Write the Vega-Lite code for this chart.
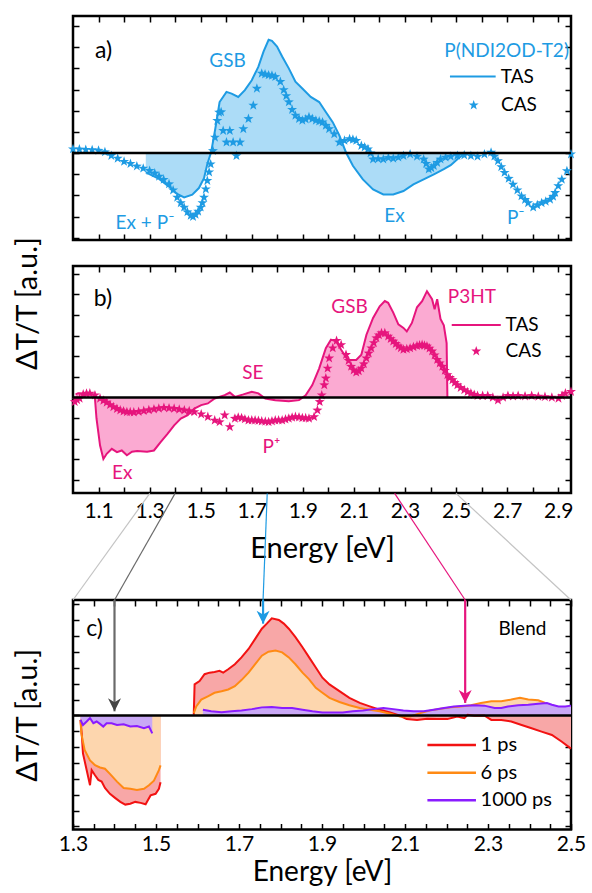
{
  "$schema": "https://vega.github.io/schema/vega-lite/v6.json",
  "padding": {"left": 12, "top": 14, "right": 5, "bottom": 0},
  "bounds": "flush",
  "spacing": 26,
  "config": {
    "font": "Lato",
    "view": {"stroke": null},
    "axis": {
      "domain": false, "grid": false,
      "tickColor": "black", "tickWidth": 1.5, "tickSize": -6,
      "labelFont": "Lato", "labelFontSize": 21, "labelColor": "black",
      "labelPadding": 13, "labelFlush": false, "labelOverlap": false, "labelBound": false,
      "titleFont": "Lato", "titleFontSize": 29, "titleFontWeight": "normal", "titleColor": "black"
    },
    "text": {"font": "Lato"}
  },
  "datasets": {
    "tas_a": [
      {"E":1.285,"dTT":-0.91},{"E":1.337,"dTT":-1.22},{"E":1.376,"dTT":-1.58},{"E":1.408,"dTT":-1.93},{"E":1.435,"dTT":-2.09},{"E":1.467,"dTT":-1.96},{"E":1.493,"dTT":-1.65},{"E":1.513,"dTT":-1.18},{"E":1.526,"dTT":-0.52},{"E":1.541,"dTT":0.05},{"E":1.557,"dTT":1.14},{"E":1.574,"dTT":2.41},{"E":1.601,"dTT":2.89},{"E":1.621,"dTT":2.81},{"E":1.647,"dTT":2.65},{"E":1.673,"dTT":2.97},{"E":1.700,"dTT":3.44},{"E":1.726,"dTT":4.08},{"E":1.746,"dTT":4.79},{"E":1.766,"dTT":5.35},{"E":1.779,"dTT":5.30},{"E":1.799,"dTT":5.03},{"E":1.819,"dTT":4.56},{"E":1.845,"dTT":4.00},{"E":1.871,"dTT":3.37},{"E":1.898,"dTT":3.05},{"E":1.931,"dTT":2.65},{"E":1.964,"dTT":2.41},{"E":1.990,"dTT":1.94},{"E":2.017,"dTT":1.46},{"E":2.043,"dTT":0.83},{"E":2.069,"dTT":0.03},{"E":2.096,"dTT":-0.60},{"E":2.135,"dTT":-1.24},{"E":2.175,"dTT":-1.71},{"E":2.215,"dTT":-1.95},{"E":2.254,"dTT":-1.95},{"E":2.294,"dTT":-1.79},{"E":2.333,"dTT":-1.48},{"E":2.373,"dTT":-1.24},{"E":2.413,"dTT":-1.00},{"E":2.452,"dTT":-0.76},{"E":2.479,"dTT":-0.57},{"E":2.505,"dTT":-0.29},{"E":2.525,"dTT":-0.10}
    ],
    "cas_a": [
      {"E":1.000,"dTT":0.19},{"E":1.025,"dTT":0.18},{"E":1.050,"dTT":0.16},{"E":1.075,"dTT":0.15},{"E":1.100,"dTT":0.12},{"E":1.125,"dTT":0.05},{"E":1.150,"dTT":-0.12},{"E":1.175,"dTT":-0.25},{"E":1.200,"dTT":-0.40},{"E":1.225,"dTT":-0.50},{"E":1.250,"dTT":-0.62},{"E":1.275,"dTT":-0.72},{"E":1.300,"dTT":-0.83},{"E":1.320,"dTT":-0.95},{"E":1.337,"dTT":-1.10},{"E":1.355,"dTT":-1.25},{"E":1.376,"dTT":-1.46},{"E":1.392,"dTT":-1.75},{"E":1.408,"dTT":-2.09},{"E":1.422,"dTT":-2.35},{"E":1.435,"dTT":-2.56},{"E":1.448,"dTT":-2.78},{"E":1.461,"dTT":-2.95},{"E":1.470,"dTT":-3.00},{"E":1.480,"dTT":-2.90},{"E":1.490,"dTT":-2.75},{"E":1.500,"dTT":-2.56},{"E":1.507,"dTT":-2.35},{"E":1.513,"dTT":-2.09},{"E":1.520,"dTT":-1.70},{"E":1.526,"dTT":-1.30},{"E":1.533,"dTT":-0.90},{"E":1.539,"dTT":-0.52},{"E":1.548,"dTT":0.11},{"E":1.556,"dTT":0.74},{"E":1.565,"dTT":1.53},{"E":1.572,"dTT":1.92},{"E":1.580,"dTT":1.94},{"E":1.588,"dTT":1.06},{"E":1.601,"dTT":0.51},{"E":1.614,"dTT":1.06},{"E":1.627,"dTT":0.51},{"E":1.640,"dTT":-0.13},{"E":1.654,"dTT":0.51},{"E":1.667,"dTT":1.14},{"E":1.687,"dTT":1.62},{"E":1.706,"dTT":2.25},{"E":1.720,"dTT":3.05},{"E":1.739,"dTT":3.76},{"E":1.752,"dTT":3.72},{"E":1.766,"dTT":3.68},{"E":1.779,"dTT":3.66},{"E":1.792,"dTT":3.60},{"E":1.812,"dTT":3.37},{"E":1.825,"dTT":2.98},{"E":1.835,"dTT":2.70},{"E":1.845,"dTT":2.41},{"E":1.858,"dTT":2.05},{"E":1.871,"dTT":1.78},{"E":1.885,"dTT":1.62},{"E":1.898,"dTT":1.54},{"E":1.911,"dTT":1.60},{"E":1.924,"dTT":1.70},{"E":1.937,"dTT":1.62},{"E":1.951,"dTT":1.54},{"E":1.964,"dTT":1.50},{"E":1.977,"dTT":1.46},{"E":1.990,"dTT":1.30},{"E":2.003,"dTT":1.14},{"E":2.023,"dTT":0.90},{"E":2.043,"dTT":0.51},{"E":2.063,"dTT":0.59},{"E":2.083,"dTT":0.67},{"E":2.096,"dTT":0.64},{"E":2.109,"dTT":0.59},{"E":2.129,"dTT":0.35},{"E":2.142,"dTT":0.28},{"E":2.155,"dTT":0.19},{"E":2.165,"dTT":0.00},{"E":2.175,"dTT":-0.29},{"E":2.195,"dTT":-0.27},{"E":2.215,"dTT":-0.29},{"E":2.235,"dTT":-0.22},{"E":2.254,"dTT":-0.25},{"E":2.274,"dTT":-0.20},{"E":2.294,"dTT":-0.13},{"E":2.320,"dTT":-0.05},{"E":2.347,"dTT":-0.16},{"E":2.373,"dTT":-0.29},{"E":2.383,"dTT":-0.50},{"E":2.393,"dTT":-0.76},{"E":2.403,"dTT":-0.70},{"E":2.413,"dTT":-0.60},{"E":2.426,"dTT":-0.45},{"E":2.439,"dTT":-0.29},{"E":2.459,"dTT":-0.20},{"E":2.479,"dTT":-0.16},{"E":2.505,"dTT":-0.12},{"E":2.532,"dTT":-0.10},{"E":2.558,"dTT":-0.13},{"E":2.584,"dTT":-0.16},{"E":2.611,"dTT":-0.05},{"E":2.637,"dTT":0.03},{"E":2.650,"dTT":-0.15},{"E":2.664,"dTT":-0.37},{"E":2.677,"dTT":-0.65},{"E":2.690,"dTT":-0.92},{"E":2.706,"dTT":-1.20},{"E":2.723,"dTT":-1.48},{"E":2.740,"dTT":-1.75},{"E":2.756,"dTT":-2.03},{"E":2.770,"dTT":-2.20},{"E":2.782,"dTT":-2.35},{"E":2.802,"dTT":-2.56},{"E":2.818,"dTT":-2.45},{"E":2.835,"dTT":-2.35},{"E":2.851,"dTT":-2.28},{"E":2.868,"dTT":-2.19},{"E":2.880,"dTT":-2.05},{"E":2.888,"dTT":-1.87},{"E":2.900,"dTT":-1.55},{"E":2.914,"dTT":-1.24},{"E":2.934,"dTT":-0.84},{"E":2.950,"dTT":-0.05}
    ],
    "tas_b": [
      {"E":1.010,"dTT":0.15},{"E":1.020,"dTT":0.20},{"E":1.053,"dTT":0.18},{"E":1.079,"dTT":0.15},{"E":1.086,"dTT":-0.05},{"E":1.092,"dTT":-1.02},{"E":1.106,"dTT":-2.33},{"E":1.119,"dTT":-2.98},{"E":1.132,"dTT":-2.73},{"E":1.152,"dTT":-2.49},{"E":1.172,"dTT":-2.65},{"E":1.191,"dTT":-2.57},{"E":1.211,"dTT":-2.80},{"E":1.231,"dTT":-2.63},{"E":1.251,"dTT":-2.59},{"E":1.290,"dTT":-2.63},{"E":1.317,"dTT":-2.57},{"E":1.343,"dTT":-2.16},{"E":1.370,"dTT":-1.76},{"E":1.396,"dTT":-1.35},{"E":1.422,"dTT":-1.02},{"E":1.449,"dTT":-0.86},{"E":1.475,"dTT":-0.54},{"E":1.502,"dTT":-0.37},{"E":1.528,"dTT":-0.29},{"E":1.555,"dTT":-0.05},{"E":1.594,"dTT":0.11},{"E":1.614,"dTT":0.24},{"E":1.634,"dTT":0.03},{"E":1.667,"dTT":0.15},{"E":1.700,"dTT":0.28},{"E":1.726,"dTT":0.20},{"E":1.753,"dTT":-0.05},{"E":1.792,"dTT":-0.13},{"E":1.845,"dTT":-0.18},{"E":1.885,"dTT":-0.13},{"E":1.911,"dTT":0.11},{"E":1.937,"dTT":0.60},{"E":1.964,"dTT":1.41},{"E":1.990,"dTT":2.39},{"E":2.010,"dTT":2.80},{"E":2.030,"dTT":2.72},{"E":2.050,"dTT":2.31},{"E":2.076,"dTT":1.82},{"E":2.109,"dTT":1.82},{"E":2.129,"dTT":2.07},{"E":2.149,"dTT":3.04},{"E":2.175,"dTT":3.85},{"E":2.201,"dTT":4.42},{"E":2.221,"dTT":4.67},{"E":2.234,"dTT":4.59},{"E":2.254,"dTT":4.11},{"E":2.274,"dTT":3.54},{"E":2.294,"dTT":3.37},{"E":2.307,"dTT":3.20},{"E":2.327,"dTT":3.61},{"E":2.347,"dTT":4.37},{"E":2.367,"dTT":4.67},{"E":2.386,"dTT":5.15},{"E":2.406,"dTT":4.76},{"E":2.416,"dTT":4.28},{"E":2.426,"dTT":4.76},{"E":2.439,"dTT":3.80},{"E":2.452,"dTT":3.50},{"E":2.463,"dTT":2.63},{"E":2.466,"dTT":0.00}
    ],
    "cas_b": [
      {"E":1.007,"dTT":-0.21},{"E":1.016,"dTT":-0.12},{"E":1.026,"dTT":-0.05},{"E":1.040,"dTT":0.15},{"E":1.053,"dTT":0.19},{"E":1.066,"dTT":0.20},{"E":1.086,"dTT":0.11},{"E":1.106,"dTT":-0.05},{"E":1.119,"dTT":-0.15},{"E":1.132,"dTT":-0.24},{"E":1.145,"dTT":-0.36},{"E":1.158,"dTT":-0.46},{"E":1.172,"dTT":-0.55},{"E":1.185,"dTT":-0.62},{"E":1.198,"dTT":-0.67},{"E":1.211,"dTT":-0.70},{"E":1.224,"dTT":-0.71},{"E":1.238,"dTT":-0.72},{"E":1.257,"dTT":-0.69},{"E":1.277,"dTT":-0.65},{"E":1.297,"dTT":-0.61},{"E":1.317,"dTT":-0.57},{"E":1.336,"dTT":-0.53},{"E":1.356,"dTT":-0.50},{"E":1.376,"dTT":-0.52},{"E":1.396,"dTT":-0.54},{"E":1.416,"dTT":-0.58},{"E":1.436,"dTT":-0.62},{"E":1.455,"dTT":-0.66},{"E":1.475,"dTT":-0.70},{"E":1.502,"dTT":-0.81},{"E":1.528,"dTT":-0.94},{"E":1.555,"dTT":-1.11},{"E":1.574,"dTT":-1.19},{"E":1.594,"dTT":-0.86},{"E":1.614,"dTT":-1.43},{"E":1.634,"dTT":-1.02},{"E":1.647,"dTT":-0.97},{"E":1.660,"dTT":-0.99},{"E":1.673,"dTT":-1.05},{"E":1.687,"dTT":-1.11},{"E":1.700,"dTT":-1.10},{"E":1.713,"dTT":-1.11},{"E":1.726,"dTT":-1.13},{"E":1.739,"dTT":-1.15},{"E":1.753,"dTT":-1.17},{"E":1.766,"dTT":-1.19},{"E":1.779,"dTT":-1.15},{"E":1.792,"dTT":-1.11},{"E":1.805,"dTT":-1.10},{"E":1.819,"dTT":-1.11},{"E":1.832,"dTT":-1.06},{"E":1.845,"dTT":-1.02},{"E":1.858,"dTT":-0.97},{"E":1.871,"dTT":-0.94},{"E":1.885,"dTT":-0.96},{"E":1.898,"dTT":-0.99},{"E":1.911,"dTT":-1.00},{"E":1.924,"dTT":-1.02},{"E":1.944,"dTT":-0.94},{"E":1.957,"dTT":-0.62},{"E":1.966,"dTT":-0.21},{"E":1.974,"dTT":0.11},{"E":1.984,"dTT":0.60},{"E":1.990,"dTT":0.93},{"E":1.997,"dTT":1.41},{"E":2.003,"dTT":1.90},{"E":2.017,"dTT":2.39},{"E":2.032,"dTT":2.75},{"E":2.050,"dTT":2.55},{"E":2.069,"dTT":2.07},{"E":2.079,"dTT":1.78},{"E":2.089,"dTT":1.50},{"E":2.099,"dTT":1.32},{"E":2.109,"dTT":1.22},{"E":2.119,"dTT":1.28},{"E":2.129,"dTT":1.41},{"E":2.139,"dTT":1.62},{"E":2.149,"dTT":1.90},{"E":2.158,"dTT":2.14},{"E":2.168,"dTT":2.39},{"E":2.178,"dTT":2.64},{"E":2.188,"dTT":2.88},{"E":2.198,"dTT":3.02},{"E":2.208,"dTT":3.12},{"E":2.221,"dTT":3.12},{"E":2.234,"dTT":2.96},{"E":2.244,"dTT":2.84},{"E":2.254,"dTT":2.72},{"E":2.264,"dTT":2.60},{"E":2.274,"dTT":2.48},{"E":2.284,"dTT":2.40},{"E":2.294,"dTT":2.32},{"E":2.307,"dTT":2.35},{"E":2.320,"dTT":2.39},{"E":2.333,"dTT":2.45},{"E":2.347,"dTT":2.50},{"E":2.357,"dTT":2.53},{"E":2.367,"dTT":2.55},{"E":2.376,"dTT":2.52},{"E":2.386,"dTT":2.48},{"E":2.396,"dTT":2.38},{"E":2.406,"dTT":2.24},{"E":2.416,"dTT":2.05},{"E":2.426,"dTT":1.83},{"E":2.436,"dTT":1.66},{"E":2.446,"dTT":1.50},{"E":2.456,"dTT":1.30},{"E":2.466,"dTT":1.09},{"E":2.476,"dTT":0.96},{"E":2.486,"dTT":0.85},{"E":2.495,"dTT":0.72},{"E":2.505,"dTT":0.60},{"E":2.518,"dTT":0.47},{"E":2.532,"dTT":0.36},{"E":2.545,"dTT":0.27},{"E":2.558,"dTT":0.20},{"E":2.571,"dTT":0.13},{"E":2.584,"dTT":0.08},{"E":2.604,"dTT":0.08},{"E":2.624,"dTT":0.08},{"E":2.644,"dTT":0.00},{"E":2.664,"dTT":-0.13},{"E":2.684,"dTT":0.00},{"E":2.703,"dTT":0.08},{"E":2.723,"dTT":0.06},{"E":2.743,"dTT":0.08},{"E":2.770,"dTT":0.06},{"E":2.796,"dTT":0.08},{"E":2.822,"dTT":0.05},{"E":2.848,"dTT":0.03},{"E":2.875,"dTT":0.00},{"E":2.901,"dTT":-0.05},{"E":2.915,"dTT":0.08},{"E":2.928,"dTT":0.20},{"E":2.950,"dTT":0.28}
    ],
    "blend": [
      {"delay":"1 ps","seg":"L","E":1.318,"dTT":-0.28},{"delay":"1 ps","seg":"L","E":1.321,"dTT":-1.13},{"delay":"1 ps","seg":"L","E":1.324,"dTT":-2.39},{"delay":"1 ps","seg":"L","E":1.333,"dTT":-3.45},{"delay":"1 ps","seg":"L","E":1.341,"dTT":-4.40},{"delay":"1 ps","seg":"L","E":1.345,"dTT":-3.45},{"delay":"1 ps","seg":"L","E":1.353,"dTT":-3.77},{"delay":"1 ps","seg":"L","E":1.361,"dTT":-4.06},{"delay":"1 ps","seg":"L","E":1.369,"dTT":-4.17},{"delay":"1 ps","seg":"L","E":1.377,"dTT":-4.57},{"delay":"1 ps","seg":"L","E":1.389,"dTT":-4.94},{"delay":"1 ps","seg":"L","E":1.402,"dTT":-5.21},{"delay":"1 ps","seg":"L","E":1.414,"dTT":-5.45},{"delay":"1 ps","seg":"L","E":1.426,"dTT":-5.62},{"delay":"1 ps","seg":"L","E":1.438,"dTT":-5.57},{"delay":"1 ps","seg":"L","E":1.450,"dTT":-5.45},{"delay":"1 ps","seg":"L","E":1.463,"dTT":-5.51},{"delay":"1 ps","seg":"L","E":1.475,"dTT":-5.60},{"delay":"1 ps","seg":"L","E":1.480,"dTT":-5.36},{"delay":"1 ps","seg":"L","E":1.487,"dTT":-5.04},{"delay":"1 ps","seg":"L","E":1.499,"dTT":-4.94},{"delay":"1 ps","seg":"L","E":1.507,"dTT":-4.62},{"delay":"1 ps","seg":"L","E":1.511,"dTT":-4.21},
      {"delay":"1 ps","seg":"R","E":1.591,"dTT":0.04},{"delay":"1 ps","seg":"R","E":1.593,"dTT":1.96},{"delay":"1 ps","seg":"R","E":1.605,"dTT":2.17},{"delay":"1 ps","seg":"R","E":1.617,"dTT":2.60},{"delay":"1 ps","seg":"R","E":1.629,"dTT":2.70},{"delay":"1 ps","seg":"R","E":1.641,"dTT":2.74},{"delay":"1 ps","seg":"R","E":1.653,"dTT":2.81},{"delay":"1 ps","seg":"R","E":1.662,"dTT":2.70},{"delay":"1 ps","seg":"R","E":1.674,"dTT":2.91},{"delay":"1 ps","seg":"R","E":1.690,"dTT":3.23},{"delay":"1 ps","seg":"R","E":1.706,"dTT":3.66},{"delay":"1 ps","seg":"R","E":1.723,"dTT":4.19},{"delay":"1 ps","seg":"R","E":1.739,"dTT":4.83},{"delay":"1 ps","seg":"R","E":1.755,"dTT":5.47},{"delay":"1 ps","seg":"R","E":1.767,"dTT":5.79},{"delay":"1 ps","seg":"R","E":1.779,"dTT":6.13},{"delay":"1 ps","seg":"R","E":1.796,"dTT":6.02},{"delay":"1 ps","seg":"R","E":1.808,"dTT":5.79},{"delay":"1 ps","seg":"R","E":1.820,"dTT":5.47},{"delay":"1 ps","seg":"R","E":1.836,"dTT":4.94},{"delay":"1 ps","seg":"R","E":1.853,"dTT":4.30},{"delay":"1 ps","seg":"R","E":1.869,"dTT":3.66},{"delay":"1 ps","seg":"R","E":1.885,"dTT":3.02},{"delay":"1 ps","seg":"R","E":1.901,"dTT":2.38},{"delay":"1 ps","seg":"R","E":1.918,"dTT":1.96},{"delay":"1 ps","seg":"R","E":1.942,"dTT":1.53},{"delay":"1 ps","seg":"R","E":1.966,"dTT":1.11},{"delay":"1 ps","seg":"R","E":1.991,"dTT":0.79},{"delay":"1 ps","seg":"R","E":2.015,"dTT":0.57},{"delay":"1 ps","seg":"R","E":2.039,"dTT":0.36},{"delay":"1 ps","seg":"R","E":2.064,"dTT":0.19},{"delay":"1 ps","seg":"R","E":2.088,"dTT":-0.02},{"delay":"1 ps","seg":"R","E":2.104,"dTT":-0.23},{"delay":"1 ps","seg":"R","E":2.129,"dTT":-0.28},{"delay":"1 ps","seg":"R","E":2.153,"dTT":-0.21},{"delay":"1 ps","seg":"R","E":2.178,"dTT":-0.23},{"delay":"1 ps","seg":"R","E":2.202,"dTT":-0.23},{"delay":"1 ps","seg":"R","E":2.226,"dTT":-0.06},{"delay":"1 ps","seg":"R","E":2.243,"dTT":-0.17},{"delay":"1 ps","seg":"R","E":2.251,"dTT":0.04},{"delay":"1 ps","seg":"R","E":2.267,"dTT":-0.02},{"delay":"1 ps","seg":"R","E":2.291,"dTT":0.00},{"delay":"1 ps","seg":"R","E":2.308,"dTT":-0.28},{"delay":"1 ps","seg":"R","E":2.332,"dTT":-0.28},{"delay":"1 ps","seg":"R","E":2.356,"dTT":-0.38},{"delay":"1 ps","seg":"R","E":2.381,"dTT":-0.60},{"delay":"1 ps","seg":"R","E":2.405,"dTT":-0.81},{"delay":"1 ps","seg":"R","E":2.429,"dTT":-1.02},{"delay":"1 ps","seg":"R","E":2.454,"dTT":-1.23},{"delay":"1 ps","seg":"R","E":2.478,"dTT":-1.66},{"delay":"1 ps","seg":"R","E":2.500,"dTT":-2.09},
      {"delay":"6 ps","seg":"L","E":1.318,"dTT":-0.28},{"delay":"6 ps","seg":"L","E":1.320,"dTT":-1.13},{"delay":"6 ps","seg":"L","E":1.328,"dTT":-2.17},{"delay":"6 ps","seg":"L","E":1.341,"dTT":-2.83},{"delay":"6 ps","seg":"L","E":1.353,"dTT":-3.13},{"delay":"6 ps","seg":"L","E":1.365,"dTT":-3.28},{"delay":"6 ps","seg":"L","E":1.377,"dTT":-3.36},{"delay":"6 ps","seg":"L","E":1.389,"dTT":-3.68},{"delay":"6 ps","seg":"L","E":1.406,"dTT":-4.17},{"delay":"6 ps","seg":"L","E":1.422,"dTT":-4.57},{"delay":"6 ps","seg":"L","E":1.438,"dTT":-4.62},{"delay":"6 ps","seg":"L","E":1.454,"dTT":-4.70},{"delay":"6 ps","seg":"L","E":1.471,"dTT":-4.62},{"delay":"6 ps","seg":"L","E":1.483,"dTT":-4.40},{"delay":"6 ps","seg":"L","E":1.495,"dTT":-4.11},{"delay":"6 ps","seg":"L","E":1.507,"dTT":-3.45},{"delay":"6 ps","seg":"L","E":1.511,"dTT":-3.15},
      {"delay":"6 ps","seg":"R","E":1.591,"dTT":0.15},{"delay":"6 ps","seg":"R","E":1.597,"dTT":0.57},{"delay":"6 ps","seg":"R","E":1.609,"dTT":1.00},{"delay":"6 ps","seg":"R","E":1.625,"dTT":1.21},{"delay":"6 ps","seg":"R","E":1.641,"dTT":1.43},{"delay":"6 ps","seg":"R","E":1.658,"dTT":1.53},{"delay":"6 ps","seg":"R","E":1.674,"dTT":1.64},{"delay":"6 ps","seg":"R","E":1.690,"dTT":1.85},{"delay":"6 ps","seg":"R","E":1.706,"dTT":2.23},{"delay":"6 ps","seg":"R","E":1.723,"dTT":2.70},{"delay":"6 ps","seg":"R","E":1.739,"dTT":3.23},{"delay":"6 ps","seg":"R","E":1.755,"dTT":3.77},{"delay":"6 ps","seg":"R","E":1.771,"dTT":4.02},{"delay":"6 ps","seg":"R","E":1.788,"dTT":4.09},{"delay":"6 ps","seg":"R","E":1.804,"dTT":3.98},{"delay":"6 ps","seg":"R","E":1.820,"dTT":3.66},{"delay":"6 ps","seg":"R","E":1.836,"dTT":3.23},{"delay":"6 ps","seg":"R","E":1.853,"dTT":2.70},{"delay":"6 ps","seg":"R","E":1.869,"dTT":2.28},{"delay":"6 ps","seg":"R","E":1.885,"dTT":1.74},{"delay":"6 ps","seg":"R","E":1.901,"dTT":1.43},{"delay":"6 ps","seg":"R","E":1.918,"dTT":1.11},{"delay":"6 ps","seg":"R","E":1.942,"dTT":0.85},{"delay":"6 ps","seg":"R","E":1.966,"dTT":0.64},{"delay":"6 ps","seg":"R","E":1.991,"dTT":0.47},{"delay":"6 ps","seg":"R","E":2.015,"dTT":0.36},{"delay":"6 ps","seg":"R","E":2.039,"dTT":0.26},{"delay":"6 ps","seg":"R","E":2.064,"dTT":0.11},{"delay":"6 ps","seg":"R","E":2.088,"dTT":-0.06},{"delay":"6 ps","seg":"R","E":2.113,"dTT":-0.06},{"delay":"6 ps","seg":"R","E":2.137,"dTT":0.15},{"delay":"6 ps","seg":"R","E":2.161,"dTT":0.32},{"delay":"6 ps","seg":"R","E":2.186,"dTT":0.43},{"delay":"6 ps","seg":"R","E":2.210,"dTT":0.51},{"delay":"6 ps","seg":"R","E":2.234,"dTT":0.57},{"delay":"6 ps","seg":"R","E":2.259,"dTT":0.64},{"delay":"6 ps","seg":"R","E":2.283,"dTT":0.79},{"delay":"6 ps","seg":"R","E":2.308,"dTT":0.89},{"delay":"6 ps","seg":"R","E":2.332,"dTT":0.89},{"delay":"6 ps","seg":"R","E":2.356,"dTT":1.00},{"delay":"6 ps","seg":"R","E":2.377,"dTT":1.11},{"delay":"6 ps","seg":"R","E":2.397,"dTT":1.00},{"delay":"6 ps","seg":"R","E":2.421,"dTT":0.96},{"delay":"6 ps","seg":"R","E":2.438,"dTT":0.79},
      {"delay":"1000 ps","seg":"L","E":1.318,"dTT":-0.28},{"delay":"1000 ps","seg":"L","E":1.324,"dTT":-0.60},{"delay":"1000 ps","seg":"L","E":1.333,"dTT":-0.38},{"delay":"1000 ps","seg":"L","E":1.341,"dTT":-0.17},{"delay":"1000 ps","seg":"L","E":1.349,"dTT":-0.49},{"delay":"1000 ps","seg":"L","E":1.357,"dTT":-0.38},{"delay":"1000 ps","seg":"L","E":1.365,"dTT":-0.53},{"delay":"1000 ps","seg":"L","E":1.373,"dTT":-0.70},{"delay":"1000 ps","seg":"L","E":1.381,"dTT":-0.49},{"delay":"1000 ps","seg":"L","E":1.393,"dTT":-0.49},{"delay":"1000 ps","seg":"L","E":1.406,"dTT":-0.60},{"delay":"1000 ps","seg":"L","E":1.422,"dTT":-0.55},{"delay":"1000 ps","seg":"L","E":1.438,"dTT":-0.70},{"delay":"1000 ps","seg":"L","E":1.454,"dTT":-0.66},{"delay":"1000 ps","seg":"L","E":1.471,"dTT":-0.81},{"delay":"1000 ps","seg":"L","E":1.483,"dTT":-0.70},{"delay":"1000 ps","seg":"L","E":1.491,"dTT":-1.13},
      {"delay":"1000 ps","seg":"R","E":1.613,"dTT":0.36},{"delay":"1000 ps","seg":"R","E":1.633,"dTT":0.26},{"delay":"1000 ps","seg":"R","E":1.658,"dTT":0.21},{"delay":"1000 ps","seg":"R","E":1.682,"dTT":0.26},{"delay":"1000 ps","seg":"R","E":1.706,"dTT":0.32},{"delay":"1000 ps","seg":"R","E":1.731,"dTT":0.40},{"delay":"1000 ps","seg":"R","E":1.755,"dTT":0.51},{"delay":"1000 ps","seg":"R","E":1.779,"dTT":0.53},{"delay":"1000 ps","seg":"R","E":1.804,"dTT":0.47},{"delay":"1000 ps","seg":"R","E":1.828,"dTT":0.47},{"delay":"1000 ps","seg":"R","E":1.853,"dTT":0.36},{"delay":"1000 ps","seg":"R","E":1.877,"dTT":0.26},{"delay":"1000 ps","seg":"R","E":1.901,"dTT":0.19},{"delay":"1000 ps","seg":"R","E":1.926,"dTT":0.19},{"delay":"1000 ps","seg":"R","E":1.950,"dTT":0.19},{"delay":"1000 ps","seg":"R","E":1.974,"dTT":0.26},{"delay":"1000 ps","seg":"R","E":1.999,"dTT":0.32},{"delay":"1000 ps","seg":"R","E":2.023,"dTT":0.40},{"delay":"1000 ps","seg":"R","E":2.048,"dTT":0.47},{"delay":"1000 ps","seg":"R","E":2.072,"dTT":0.40},{"delay":"1000 ps","seg":"R","E":2.096,"dTT":0.32},{"delay":"1000 ps","seg":"R","E":2.121,"dTT":0.26},{"delay":"1000 ps","seg":"R","E":2.145,"dTT":0.26},{"delay":"1000 ps","seg":"R","E":2.169,"dTT":0.36},{"delay":"1000 ps","seg":"R","E":2.194,"dTT":0.47},{"delay":"1000 ps","seg":"R","E":2.218,"dTT":0.57},{"delay":"1000 ps","seg":"R","E":2.243,"dTT":0.62},{"delay":"1000 ps","seg":"R","E":2.267,"dTT":0.64},{"delay":"1000 ps","seg":"R","E":2.291,"dTT":0.62},{"delay":"1000 ps","seg":"R","E":2.316,"dTT":0.47},{"delay":"1000 ps","seg":"R","E":2.332,"dTT":0.47},{"delay":"1000 ps","seg":"R","E":2.348,"dTT":0.57},{"delay":"1000 ps","seg":"R","E":2.373,"dTT":0.64},{"delay":"1000 ps","seg":"R","E":2.397,"dTT":0.68},{"delay":"1000 ps","seg":"R","E":2.421,"dTT":0.74},{"delay":"1000 ps","seg":"R","E":2.442,"dTT":0.79},{"delay":"1000 ps","seg":"R","E":2.454,"dTT":0.68},{"delay":"1000 ps","seg":"R","E":2.470,"dTT":0.57},{"delay":"1000 ps","seg":"R","E":2.486,"dTT":0.57},{"delay":"1000 ps","seg":"R","E":2.500,"dTT":0.62}
    ],
    "cues": [
      {"cue":"range","E":1.3,"Etop":1.485},
      {"cue":"NIR","E":1.40,"Etop":1.546,"tip":0.26},
      {"cue":"NDI","E":1.758,"Etop":1.768,"tip":5.79},
      {"cue":"P3HT","E":2.245,"Etop":2.075,"tip":0.79},
      {"cue":"range","E":2.5,"Etop":2.223}
    ],
    "notes_a": [
      {"E":1.605,"dTT":4.36,"label":"GSB"},
      {"E":1.282,"dTT":-3.31,"label":"Ex + P⁻"},
      {"E":2.259,"dTT":-2.99,"label":"Ex"},
      {"E":2.734,"dTT":-3.07,"label":"P⁻"},
      {"E":2.698,"dTT":4.84,"label":"P(NDI2OD-T2)"}
    ],
    "keys_a": [
      {"E":2.675,"dTT":3.61,"label":"TAS"},
      {"E":2.676,"dTT":2.26,"label":"CAS"}
    ],
    "notes_b": [
      {"E":2.083,"dTT":4.36,"label":"GSB"},
      {"E":1.704,"dTT":1.17,"label":"SE"},
      {"E":1.777,"dTT":-2.42,"label":"P⁺"},
      {"E":1.193,"dTT":-3.64,"label":"Ex"},
      {"E":2.562,"dTT":4.85,"label":"P3HT"}
    ],
    "keys_b": [
      {"E":2.694,"dTT":3.51,"label":"TAS"},
      {"E":2.694,"dTT":2.24,"label":"CAS"}
    ],
    "keys_c": [
      {"delay":"1 ps","dTT":-1.87},
      {"delay":"6 ps","dTT":-3.61},
      {"delay":"1000 ps","dTT":-5.34}
    ]
  },
  "vconcat": [
    {
      "width": 498, "height": 224,
      "view": {"stroke": "black", "strokeWidth": 2.5},
      "resolve": {"axis": {"x": "independent", "y": "independent"}},
      "layer": [
        {
          "data": {"name": "tas_a"},
          "mark": {"type": "area", "color": "#acdcf7"},
          "encoding": {
            "x": {"field": "E", "type": "quantitative", "scale": {"domain": [1.0, 2.95], "nice": false, "zero": false},
                  "axis": {"orient": "bottom", "values": [1.1,1.2,1.3,1.4,1.5,1.6,1.7,1.8,1.9,2.0,2.1,2.2,2.3,2.4,2.5,2.6,2.7,2.8,2.9], "labels": false, "title": null}},
            "y": {"field": "dTT", "type": "quantitative", "scale": {"domain": [-4.1, 6.47], "nice": false, "zero": false},
                  "axis": {"orient": "left", "values": [-4,-3,-2,-1,0,1,2,3,4,5,6], "labels": false, "title": "ΔT/T [a.u.]", "titleY": 287, "titlePadding": 30}},
            "y2": {"datum": 0}
          }
        },
        {
          "data": {"name": "tas_a"},
          "mark": {"type": "line", "color": "#1e9be3", "strokeWidth": 2},
          "encoding": {
            "x": {"field": "E", "type": "quantitative", "axis": {"orient": "top", "values": [1.1,1.2,1.3,1.4,1.5,1.6,1.7,1.8,1.9,2.0,2.1,2.2,2.3,2.4,2.5,2.6,2.7,2.8,2.9], "labels": false, "title": null}},
            "y": {"field": "dTT", "type": "quantitative", "axis": {"orient": "right", "values": [-4,-3,-2,-1,0,1,2,3,4,5,6], "labels": false, "title": null}}
          }
        },
        {
          "data": {"name": "cas_a"},
          "mark": {"type": "point", "shape": "M0,-1L0.235,-0.324L0.951,-0.309L0.38,0.124L0.588,0.809L0,0.4L-0.588,0.809L-0.38,0.124L-0.951,-0.309L-0.235,-0.324Z", "filled": true, "size": 110, "color": "#1e9be3", "opacity": 1},
          "encoding": {
            "x": {"field": "E", "type": "quantitative", "axis": null},
            "y": {"field": "dTT", "type": "quantitative", "axis": null}
          }
        },
        {
          "data": {"values": [{}]},
          "mark": {"type": "rule", "color": "#1e9be3", "strokeWidth": 2},
          "encoding": {"x": {"datum": 2.476, "type": "quantitative", "axis": null}, "x2": {"datum": 2.655}, "y": {"datum": 3.61, "type": "quantitative", "axis": null}}
        },
        {
          "data": {"values": [{}]},
          "mark": {"type": "point", "shape": "M0,-1L0.235,-0.324L0.951,-0.309L0.38,0.124L0.588,0.809L0,0.4L-0.588,0.809L-0.38,0.124L-0.951,-0.309L-0.235,-0.324Z", "filled": true, "size": 110, "color": "#1e9be3", "opacity": 1},
          "encoding": {"x": {"datum": 2.569, "type": "quantitative", "axis": null}, "y": {"datum": 2.26, "type": "quantitative", "axis": null}}
        },
        {
          "data": {"name": "notes_a"},
          "mark": {"type": "text", "color": "#1e9be3", "fontSize": 19, "align": "center", "baseline": "middle"},
          "encoding": {"x": {"field": "E", "type": "quantitative", "axis": null}, "y": {"field": "dTT", "type": "quantitative", "axis": null}, "text": {"field": "label", "type": "nominal"}}
        },
        {
          "data": {"name": "keys_a"},
          "mark": {"type": "text", "color": "black", "fontSize": 19, "align": "left", "baseline": "middle"},
          "encoding": {"x": {"field": "E", "type": "quantitative", "axis": null}, "y": {"field": "dTT", "type": "quantitative", "axis": null}, "text": {"field": "label", "type": "nominal"}}
        },
        {
          "data": {"values": [{}]},
          "mark": {"type": "text", "text": "a)", "color": "black", "fontSize": 23, "align": "center", "baseline": "middle"},
          "encoding": {"x": {"datum": 1.12, "type": "quantitative", "axis": null}, "y": {"datum": 4.8, "type": "quantitative", "axis": null}}
        },
        {
          "data": {"values": [{}]},
          "mark": {"type": "rule", "color": "black", "strokeWidth": 2.5},
          "encoding": {"y": {"datum": 0, "type": "quantitative", "axis": null}}
        }
      ]
    },
    {
      "width": 498, "height": 227,
      "view": {"stroke": "black", "strokeWidth": 2.5},
      "resolve": {"axis": {"x": "independent", "y": "independent"}},
      "layer": [
        {
          "data": {"name": "tas_b"},
          "mark": {"type": "area", "color": "#fbaad2"},
          "encoding": {
            "x": {"field": "E", "type": "quantitative", "scale": {"domain": [1.0, 2.95], "nice": false, "zero": false},
                  "axis": {"orient": "bottom", "values": [1.1,1.2,1.3,1.4,1.5,1.6,1.7,1.8,1.9,2.0,2.1,2.2,2.3,2.4,2.5,2.6,2.7,2.8,2.9],
                           "labelExpr": "round(datum.value*10) % 2 == 1 ? format(datum.value, '.1f') : ''", "title": "Energy [eV]", "titlePadding": 13}},
            "y": {"field": "dTT", "type": "quantitative", "scale": {"domain": [-4.63, 6.37], "nice": false, "zero": false},
                  "axis": {"orient": "left", "values": [-4,-3,-2,-1,0,1,2,3,4,5,6], "labels": false, "title": null}},
            "y2": {"datum": 0}
          }
        },
        {
          "data": {"name": "tas_b"},
          "mark": {"type": "line", "color": "#e6157d", "strokeWidth": 2},
          "encoding": {
            "x": {"field": "E", "type": "quantitative", "axis": {"orient": "top", "values": [1.1,1.2,1.3,1.4,1.5,1.6,1.7,1.8,1.9,2.0,2.1,2.2,2.3,2.4,2.5,2.6,2.7,2.8,2.9], "labels": false, "title": null}},
            "y": {"field": "dTT", "type": "quantitative", "axis": {"orient": "right", "values": [-4,-3,-2,-1,0,1,2,3,4,5,6], "labels": false, "title": null}}
          }
        },
        {
          "data": {"name": "cas_b"},
          "mark": {"type": "point", "shape": "M0,-1L0.235,-0.324L0.951,-0.309L0.38,0.124L0.588,0.809L0,0.4L-0.588,0.809L-0.38,0.124L-0.951,-0.309L-0.235,-0.324Z", "filled": true, "size": 110, "color": "#e6157d", "opacity": 1},
          "encoding": {
            "x": {"field": "E", "type": "quantitative", "axis": null},
            "y": {"field": "dTT", "type": "quantitative", "axis": null}
          }
        },
        {
          "data": {"values": [{}]},
          "mark": {"type": "rule", "color": "#e6157d", "strokeWidth": 2},
          "encoding": {"x": {"datum": 2.483, "type": "quantitative", "axis": null}, "x2": {"datum": 2.675}, "y": {"datum": 3.51, "type": "quantitative", "axis": null}}
        },
        {
          "data": {"values": [{}]},
          "mark": {"type": "point", "shape": "M0,-1L0.235,-0.324L0.951,-0.309L0.38,0.124L0.588,0.809L0,0.4L-0.588,0.809L-0.38,0.124L-0.951,-0.309L-0.235,-0.324Z", "filled": true, "size": 110, "color": "#e6157d", "opacity": 1},
          "encoding": {"x": {"datum": 2.579, "type": "quantitative", "axis": null}, "y": {"datum": 2.24, "type": "quantitative", "axis": null}}
        },
        {
          "data": {"name": "notes_b"},
          "mark": {"type": "text", "color": "#e6157d", "fontSize": 19, "align": "center", "baseline": "middle"},
          "encoding": {"x": {"field": "E", "type": "quantitative", "axis": null}, "y": {"field": "dTT", "type": "quantitative", "axis": null}, "text": {"field": "label", "type": "nominal"}}
        },
        {
          "data": {"name": "keys_b"},
          "mark": {"type": "text", "color": "black", "fontSize": 19, "align": "left", "baseline": "middle"},
          "encoding": {"x": {"field": "E", "type": "quantitative", "axis": null}, "y": {"field": "dTT", "type": "quantitative", "axis": null}, "text": {"field": "label", "type": "nominal"}}
        },
        {
          "data": {"values": [{}]},
          "mark": {"type": "text", "text": "b)", "color": "black", "fontSize": 23, "align": "center", "baseline": "middle"},
          "encoding": {"x": {"datum": 1.117, "type": "quantitative", "axis": null}, "y": {"datum": 4.77, "type": "quantitative", "axis": null}}
        },
        {
          "data": {"values": [{}]},
          "mark": {"type": "rule", "color": "black", "strokeWidth": 2.5},
          "encoding": {"y": {"datum": 0, "type": "quantitative", "axis": null}}
        }
      ]
    },
    {
      "width": 498, "height": 54.5,
      "data": {"values": [{"E": 1.5}]},
      "mark": {"type": "point", "opacity": 0},
      "encoding": {"x": {"field": "E", "type": "quantitative", "axis": null}}
    },
    {
      "width": 498, "height": 229.5,
      "view": {"stroke": "black", "strokeWidth": 2.5},
      "resolve": {"axis": {"x": "independent", "y": "independent"}},
      "layer": [
        {
          "data": {"name": "blend"},
          "transform": [{"filter": {"field": "delay", "equal": "1 ps"}}],
          "mark": {"type": "area", "color": "#f8a7a7"},
          "encoding": {
            "x": {"field": "E", "type": "quantitative", "scale": {"domain": [1.3, 2.5], "nice": false, "zero": false},
                  "axis": {"orient": "bottom", "values": [1.3,1.35,1.4,1.45,1.5,1.55,1.6,1.65,1.7,1.75,1.8,1.85,1.9,1.95,2.0,2.05,2.1,2.15,2.2,2.25,2.3,2.35,2.4,2.45,2.5],
                           "labelExpr": "round(datum.value*100) % 20 == 10 ? format(datum.value, '.1f') : ''", "labelPadding": 10, "title": "Energy [eV]", "titleFontSize": 28, "titlePadding": 4}},
            "y": {"field": "dTT", "type": "quantitative", "scale": {"domain": [-7.19, 7.28], "nice": false, "zero": false},
                  "axis": {"orient": "left", "values": [-7,-6,-5,-4,-3,-2,-1,0,1,2,3,4,5,6,7], "labels": false, "title": "ΔT/T [a.u.]", "titlePadding": 30}},
            "y2": {"datum": 0},
            "detail": {"field": "seg", "type": "nominal"}
          }
        },
        {
          "data": {"name": "blend"},
          "transform": [{"filter": {"field": "delay", "equal": "6 ps"}}],
          "mark": {"type": "area", "color": "#fdd6ae"},
          "encoding": {
            "x": {"field": "E", "type": "quantitative", "axis": {"orient": "top", "values": [1.3,1.35,1.4,1.45,1.5,1.55,1.6,1.65,1.7,1.75,1.8,1.85,1.9,1.95,2.0,2.05,2.1,2.15,2.2,2.25,2.3,2.35,2.4,2.45,2.5], "labels": false, "title": null}},
            "y": {"field": "dTT", "type": "quantitative", "axis": {"orient": "right", "values": [-7,-6,-5,-4,-3,-2,-1,0,1,2,3,4,5,6,7], "labels": false, "title": null}},
            "y2": {"datum": 0},
            "detail": {"field": "seg", "type": "nominal"}
          }
        },
        {
          "data": {"name": "blend"},
          "transform": [{"filter": {"field": "delay", "equal": "1000 ps"}}],
          "mark": {"type": "area", "color": "#c9a8f5"},
          "encoding": {
            "x": {"field": "E", "type": "quantitative", "axis": null},
            "y": {"field": "dTT", "type": "quantitative", "axis": null},
            "y2": {"datum": 0},
            "detail": {"field": "seg", "type": "nominal"}
          }
        },
        {
          "data": {"name": "blend"},
          "mark": {"type": "line", "strokeWidth": 2},
          "encoding": {
            "x": {"field": "E", "type": "quantitative", "axis": null},
            "y": {"field": "dTT", "type": "quantitative", "axis": null},
            "color": {"field": "delay", "type": "nominal",
                      "scale": {"domain": ["1 ps", "6 ps", "1000 ps"], "range": ["#f21212", "#ff8a14", "#8a1cff"]},
                      "legend": null},
            "detail": {"field": "seg", "type": "nominal"}
          }
        },
        {
          "data": {"name": "keys_c"},
          "mark": {"type": "rule", "strokeWidth": 2.5},
          "encoding": {
            "x": {"datum": 2.154, "type": "quantitative", "axis": null},
            "x2": {"datum": 2.271},
            "y": {"field": "dTT", "type": "quantitative", "axis": null},
            "color": {"field": "delay", "type": "nominal", "legend": null}
          }
        },
        {
          "data": {"name": "keys_c"},
          "mark": {"type": "text", "color": "black", "fontSize": 20, "align": "left", "baseline": "middle"},
          "encoding": {
            "x": {"datum": 2.282, "type": "quantitative", "axis": null},
            "y": {"field": "dTT", "type": "quantitative", "axis": null},
            "text": {"field": "delay", "type": "nominal"}
          }
        },
        {
          "data": {"values": [{}]},
          "mark": {"type": "rule", "color": "black", "strokeWidth": 2.5},
          "encoding": {"y": {"datum": 0, "type": "quantitative", "axis": null}}
        },
        {
          "data": {"name": "cues"},
          "mark": {"type": "rule", "strokeWidth": 1.2},
          "encoding": {
            "x": {"field": "E", "type": "quantitative", "axis": null},
            "x2": {"field": "Etop"},
            "y": {"datum": 7.28, "type": "quantitative", "axis": null},
            "y2": {"datum": 14.0},
            "stroke": {"field": "cue", "type": "nominal", "scale": {"domain": ["range", "NIR", "NDI", "P3HT"], "range": ["#c4c4c4", "#6a6a6a", "#1e9be3", "#e6157d"]}, "legend": null}
          }
        },
        {
          "data": {"name": "cues"},
          "transform": [{"filter": "datum.cue != 'range'"}],
          "mark": {"type": "rule", "strokeWidth": 2.2},
          "encoding": {
            "x": {"field": "E", "type": "quantitative", "axis": null},
            "y": {"field": "tip", "type": "quantitative", "axis": null},
            "y2": {"datum": 7.28},
            "stroke": {"field": "cue", "type": "nominal", "legend": null}
          }
        },
        {
          "data": {"name": "cues"},
          "transform": [{"filter": "datum.cue != 'range'"}],
          "mark": {"type": "point", "shape": "M0,0L-1,-2L0,-1.4L1,-2Z", "filled": true, "size": 169, "opacity": 1},
          "encoding": {
            "x": {"field": "E", "type": "quantitative", "axis": null},
            "y": {"field": "tip", "type": "quantitative", "axis": null},
            "fill": {"field": "cue", "type": "nominal", "scale": {"domain": ["range", "NIR", "NDI", "P3HT"], "range": ["#c4c4c4", "#454545", "#1e9be3", "#e6157d"]}, "legend": null}
          }
        },
        {
          "data": {"values": [{}]},
          "mark": {"type": "text", "text": "c)", "color": "black", "fontSize": 23, "align": "center", "baseline": "middle"},
          "encoding": {"x": {"datum": 1.352, "type": "quantitative", "axis": null}, "y": {"datum": 5.46, "type": "quantitative", "axis": null}}
        },
        {
          "data": {"values": [{}]},
          "mark": {"type": "text", "text": "Blend", "color": "black", "fontSize": 19, "align": "center", "baseline": "middle"},
          "encoding": {"x": {"datum": 2.383, "type": "quantitative", "axis": null}, "y": {"datum": 5.47, "type": "quantitative", "axis": null}}
        }
      ]
    }
  ]
}
